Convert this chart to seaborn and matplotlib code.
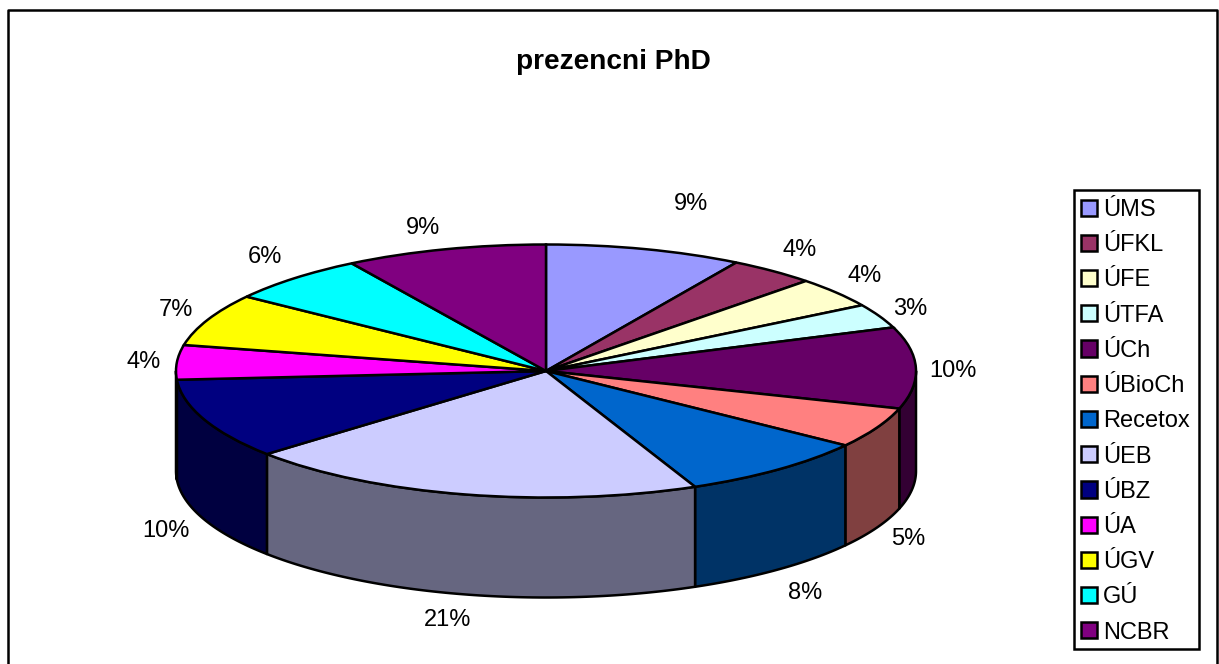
import numpy as np
import matplotlib
matplotlib.use("Agg")
import matplotlib.pyplot as plt
from matplotlib.patches import Patch, Polygon, Rectangle
import seaborn as sns

categories = ["ÚMS", "ÚFKL", "ÚFE", "ÚTFA", "ÚCh", "ÚBioCh", "Recetox",
              "ÚEB", "ÚBZ", "ÚA", "ÚGV", "GÚ", "NCBR"]
shares = [8.6, 3.8, 3.9, 3.1, 10.4, 5.2, 8.4, 20.2, 10.3, 4.4, 6.7, 6.2, 8.8]
# percentages as printed beside the slices
printed = [9, 4, 4, 3, 10, 5, 8, 21, 10, 4, 7, 6, 9]
hex_colors = ["#9999FF", "#993366", "#FFFFCC", "#CCFFFF", "#660066", "#FF8080", "#0066CC",
              "#CCCCFF", "#000080", "#FF00FF", "#FFFF00", "#00FFFF", "#800080"]
title = "prezencni PhD"

# layout (pixels)
W, H = 1219, 664
CX, CY, RX, RY, DEPTH = 546, 371, 370, 126.5, 100
LABEL_OFFSETS = [(46, 45), (27, 21), (28, 17), (31, 7), (37, -3), (32, -11), (27, -24),
                 (-18, -26), (-38, -12), (-33, 0), (-32, 10), (-29, 21), (-22, 21)]
FS = 17
LW = 1.8

sns.set_theme(style="white")
plt.rcParams["font.family"] = ["Liberation Sans", "DejaVu Sans"]
palette = sns.color_palette(hex_colors)

fig = plt.figure(figsize=(W / 100, H / 100), dpi=100, facecolor="white")
ax = fig.add_axes([0, 0, 1, 1])
ax.pie(shares, colors=palette, startangle=90, counterclock=False, radius=1,
       wedgeprops=dict(edgecolor="black", linewidth=LW, zorder=3))
ax.set_aspect("auto")
ax.set_xlim(-CX / RX, (W - CX) / RX)
ax.set_ylim((CY - H) / RY, CY / RY)
ax.set_axis_off()

d = DEPTH / RY
edges = np.cumsum([0] + shares) / sum(shares) * 2 * np.pi   # clockwise from the top

# side wall of the disc
for i, col in enumerate(palette):
    a0, a1 = max(edges[i], np.pi / 2), min(edges[i + 1], 3 * np.pi / 2)
    if a1 <= a0:
        continue
    t = np.linspace(a0, a1, 80)
    x, y = np.sin(t), np.cos(t)
    pts = np.r_[np.c_[x, y], np.c_[x[::-1], y[::-1] - d]]
    ax.add_patch(Polygon(pts, closed=True, facecolor=tuple(c * 0.5 for c in col),
                         edgecolor="black", linewidth=LW, zorder=2, joinstyle="round"))

# percentage labels
for i, (v, off) in enumerate(zip(printed, LABEL_OFFSETS)):
    m = (edges[i] + edges[i + 1]) / 2
    drop = d if np.radians(100) < m < np.radians(260) else 0
    ax.annotate(f"{v}%", xy=(np.sin(m), np.cos(m) - drop), xytext=off,
                textcoords="offset pixels", ha="center", va="center",
                fontsize=FS, color="black", zorder=5)

# chart frame, open at the bottom edge of the image
ax.plot([8 / W, 8 / W, 1217 / W, 1217 / W], [0, 1 - 10 / H, 1 - 10 / H, 0],
        transform=fig.transFigure, color="black", lw=LW, clip_on=False, zorder=6)

fig.text(613.5 / W, 1 - 62 / H, title, ha="center", va="center",
         fontsize=20.2, fontweight="bold", color="black")

# legend box
fig.add_artist(Rectangle((1074 / W, 1 - 649 / H), 125 / W, 459 / H, transform=fig.transFigure,
                         facecolor="white", edgecolor="black", linewidth=LW, zorder=1))
handles = [Patch(facecolor=c, edgecolor="black", linewidth=LW) for c in palette]
leg = fig.legend(handles, categories, loc="upper left",
                 bbox_to_anchor=(1072 / W, 1 - 190 / H), bbox_transform=fig.transFigure,
                 fontsize=FS, frameon=False,
                 borderpad=0.38, borderaxespad=0, labelspacing=0.56,
                 handlelength=0.68, handleheight=0.68, handletextpad=0.24,
                 labelcolor="black")
leg.set_zorder(2)

fig.savefig("out.png", dpi=100)
